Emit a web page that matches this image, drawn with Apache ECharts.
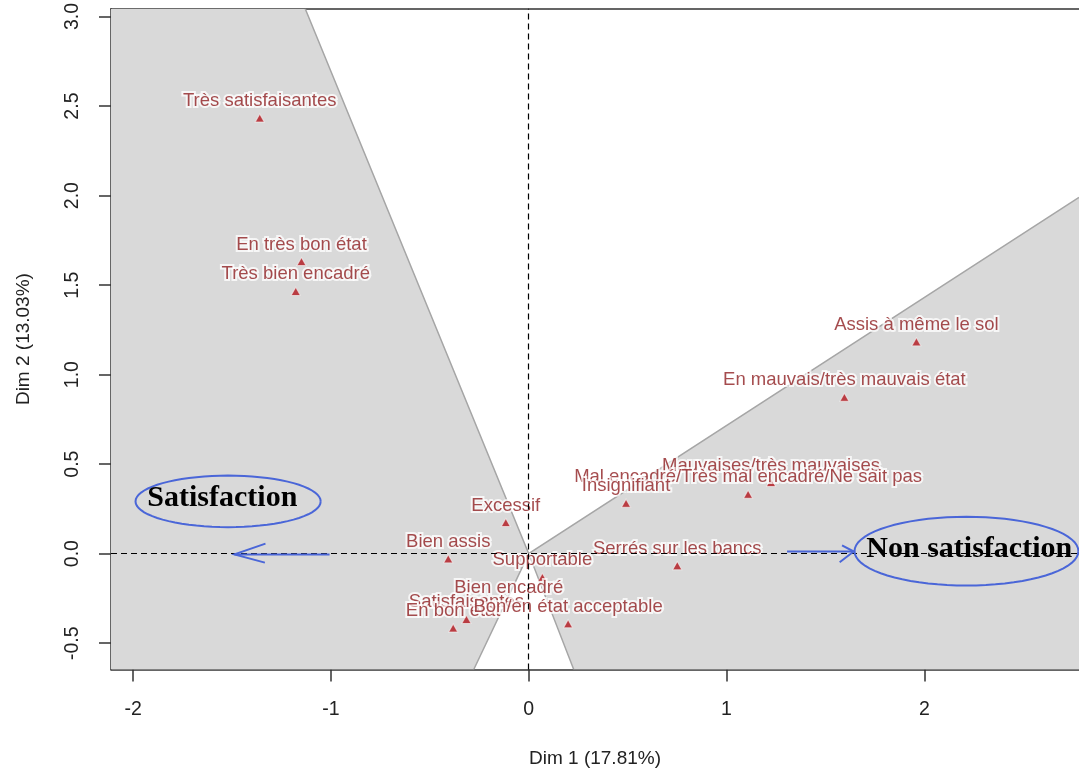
<!DOCTYPE html>
<html>
<head>
<meta charset="utf-8">
<script src="https://cdn.jsdelivr.net/npm/echarts@6/dist/echarts.min.js"></script>
<style>
  html, body { margin: 0; padding: 0; background: #fff; }
  #chart { width: 1079px; height: 776px; }
</style>
</head>
<body>
<div id="chart"></div>
<script>
// category coordinates on the first factorial plane (Dim 1 / Dim 2)
const categories = [
  'Très satisfaisantes', 'En très bon état', 'Très bien encadré', 'Assis à même le sol',
  'En mauvais/très mauvais état', 'Mauvaises/très mauvaises',
  'Mal encadré/Très mal encadré/Ne sait pas', 'Insignifiant', 'Serrés sur les bancs',
  'Excessif', 'Bien assis', 'Supportable', 'Bien encadré', 'Satisfaisantes',
  'En bon état', 'Bon/en état acceptable',
];
const dim1 = [-1.360, -1.149, -1.178, 1.960, 1.596, 1.225, 1.109, 0.492, 0.751,
  -0.116, -0.407, 0.069, -0.101, -0.315, -0.382, 0.199];
const dim2 = [2.433, 1.632, 1.465, 1.183, 0.874, 0.398, 0.332, 0.282, -0.067,
  0.174, -0.029, -0.132, -0.285, -0.367, -0.415, -0.391];

const xRange = [-2.112, 2.782];
const yRange = [-0.647, 3.044];
const xTicks = [-2, -1, 0, 1, 2];
const yTicks = [-0.5, 0, 0.5, 1, 1.5, 2, 2.5, 3];

// shaded zones, vertices in axis units
const leftZoneX = [-2.112, -1.130, 0, -0.278, -2.112];
const leftZoneY = [3.044, 3.044, 0, -0.647, -0.647];
const rightZoneX = [0, 2.782, 2.782, 0.2275];
const rightZoneY = [0, 1.990, -0.647, -0.647];

// hand-drawn annotations
const noteText = ['Satisfaction', 'Non satisfaction'];
const noteX = [-1.549, 2.227];
const noteY = [0.309, 0.026];
const ellipseX = [-1.520, 2.213];
const ellipseY = [0.292, 0.014];
const ellipseRx = [0.468, 0.566];
const ellipseRy = [0.144, 0.192];
// arrows: tail, tip, upper barb end, lower barb end
const arrowTailX = [-1.007, 1.306];
const arrowTailY = [-0.004, 0.012];
const arrowTipX = [-1.488, 1.643];
const arrowTipY = [-0.004, 0.012];
const barbTopX = [-1.331, 1.584];
const barbTopY = [0.056, 0.046];
const barbBotX = [-1.334, 1.572];
const barbBotY = [-0.050, -0.048];

const SANS = "'Liberation Sans', Arial, sans-serif";
const SERIF = "'Liberation Serif', 'Times New Roman', serif";
const BLUE = '#4a66d8';
const AXIS = '#333';

const zones = [
  { x: leftZoneX, y: leftZoneY, edge: [1, 2, 3] },
  { x: rightZoneX, y: rightZoneY, edge: [1, 0, 3] },
];

const chart = echarts.init(document.getElementById('chart'));

chart.setOption({
  animation: false,
  grid: { left: 111, right: 0, top: 5, bottom: 106.5, containLabel: false },
  xAxis: [
    {
      type: 'value',
      min: xRange[0],
      max: xRange[1],
      position: 'bottom',
      axisLine: { show: true, onZero: false, lineStyle: { color: AXIS, width: 1.5 } },
      axisTick: { show: true, customValues: xTicks, length: 12, lineStyle: { color: AXIS, width: 1.5 } },
      axisLabel: { customValues: xTicks, margin: 30, fontSize: 19.5, color: '#222', fontFamily: SANS },
      splitLine: { show: false },
      name: 'Dim 1 (17.81%)',
      nameLocation: 'middle',
      nameGap: 80,
      nameTextStyle: { fontSize: 19, color: '#222', fontFamily: SANS },
    },
    {
      type: 'value',
      min: xRange[0],
      max: xRange[1],
      position: 'top',
      axisLine: { show: true, onZero: false, lineStyle: { color: AXIS, width: 1.5 } },
      axisTick: { show: false },
      axisLabel: { show: false },
      splitLine: { show: false },
    },
  ],
  yAxis: {
    type: 'value',
    min: yRange[0],
    max: yRange[1],
    axisLine: { show: true, onZero: false, lineStyle: { color: AXIS, width: 1.5 } },
    axisTick: { show: true, customValues: yTicks, length: 12, lineStyle: { color: AXIS, width: 1.5 } },
    axisLabel: {
      customValues: yTicks,
      rotate: 90,
      margin: 28,
      fontSize: 19.5,
      color: '#222',
      fontFamily: SANS,
      formatter: (v) => v.toFixed(1),
    },
    splitLine: { show: false },
    name: 'Dim 2 (13.03%)',
    nameLocation: 'middle',
    nameGap: 78,
    nameTextStyle: { fontSize: 19, color: '#222', fontFamily: SANS },
  },
  series: [
    {
      type: 'custom',
      z: 1,
      silent: true,
      clip: true,
      data: zones.map((_, i) => [i, 0]),
      renderItem: (params, api) => {
        const zone = zones[params.dataIndex];
        const pts = zone.x.map((x, i) => api.coord([x, zone.y[i]]));
        return {
          type: 'group',
          children: [
            { type: 'polygon', shape: { points: pts }, style: { fill: '#d9d9d9', stroke: null } },
            {
              type: 'polyline',
              shape: { points: zone.edge.map((k) => pts[k]) },
              style: { fill: null, stroke: '#a6a6a6', lineWidth: 1.5 },
            },
          ],
        };
      },
    },
    {
      type: 'scatter',
      z: 3,
      symbol: 'triangle',
      symbolSize: [9, 8],
      itemStyle: { color: '#b0141c', borderColor: 'rgba(255,255,255,0.7)', borderWidth: 1 },
      data: dim1.map((x, i) => [x, dim2[i], categories[i]]),
      emphasis: { disabled: true },
      label: {
        show: true,
        position: 'inside',
        offset: [0, -17],
        formatter: (p) => p.data[2],
        color: '#8e1f22',
        fontFamily: SANS,
        fontSize: 18.5,
        textBorderColor: 'rgba(255,255,255,0.95)',
        textBorderWidth: 4,
      },
      markLine: {
        silent: true,
        symbol: 'none',
        label: { show: false },
        lineStyle: { color: '#000', type: [6, 4], width: 1.2 },
        data: [{ xAxis: 0 }, { yAxis: 0 }],
      },
    },
    {
      type: 'custom',
      z: 5,
      silent: true,
      data: noteText.map((_, i) => [i, 0]),
      renderItem: (params, api) => {
        const i = params.dataIndex;
        const c = api.coord([ellipseX[i], ellipseY[i]]);
        const r = api.size([ellipseRx[i], ellipseRy[i]]);
        const ring = [];
        for (let k = 0; k <= 72; k++) {
          const t = (k / 72) * Math.PI * 2;
          ring.push([c[0] + r[0] * Math.cos(t), c[1] + r[1] * Math.sin(t)]);
        }
        const tail = api.coord([arrowTailX[i], arrowTailY[i]]);
        const tip = api.coord([arrowTipX[i], arrowTipY[i]]);
        const top = api.coord([barbTopX[i], barbTopY[i]]);
        const bot = api.coord([barbBotX[i], barbBotY[i]]);
        const tc = api.coord([noteX[i], noteY[i]]);
        const line = { fill: null, stroke: BLUE, lineWidth: 2 };
        return {
          type: 'group',
          children: [
            { type: 'polyline', shape: { points: ring }, style: line },
            { type: 'polyline', shape: { points: [tail, tip] }, style: line },
            { type: 'polyline', shape: { points: [top, tip, bot] }, style: line },
            {
              type: 'text',
              x: tc[0],
              y: tc[1],
              style: {
                text: noteText[i],
                fill: '#000',
                font: 'bold 30px ' + SERIF,
                align: 'center',
                verticalAlign: 'middle',
              },
            },
          ],
        };
      },
    },
  ],
});
</script>
</body>
</html>
